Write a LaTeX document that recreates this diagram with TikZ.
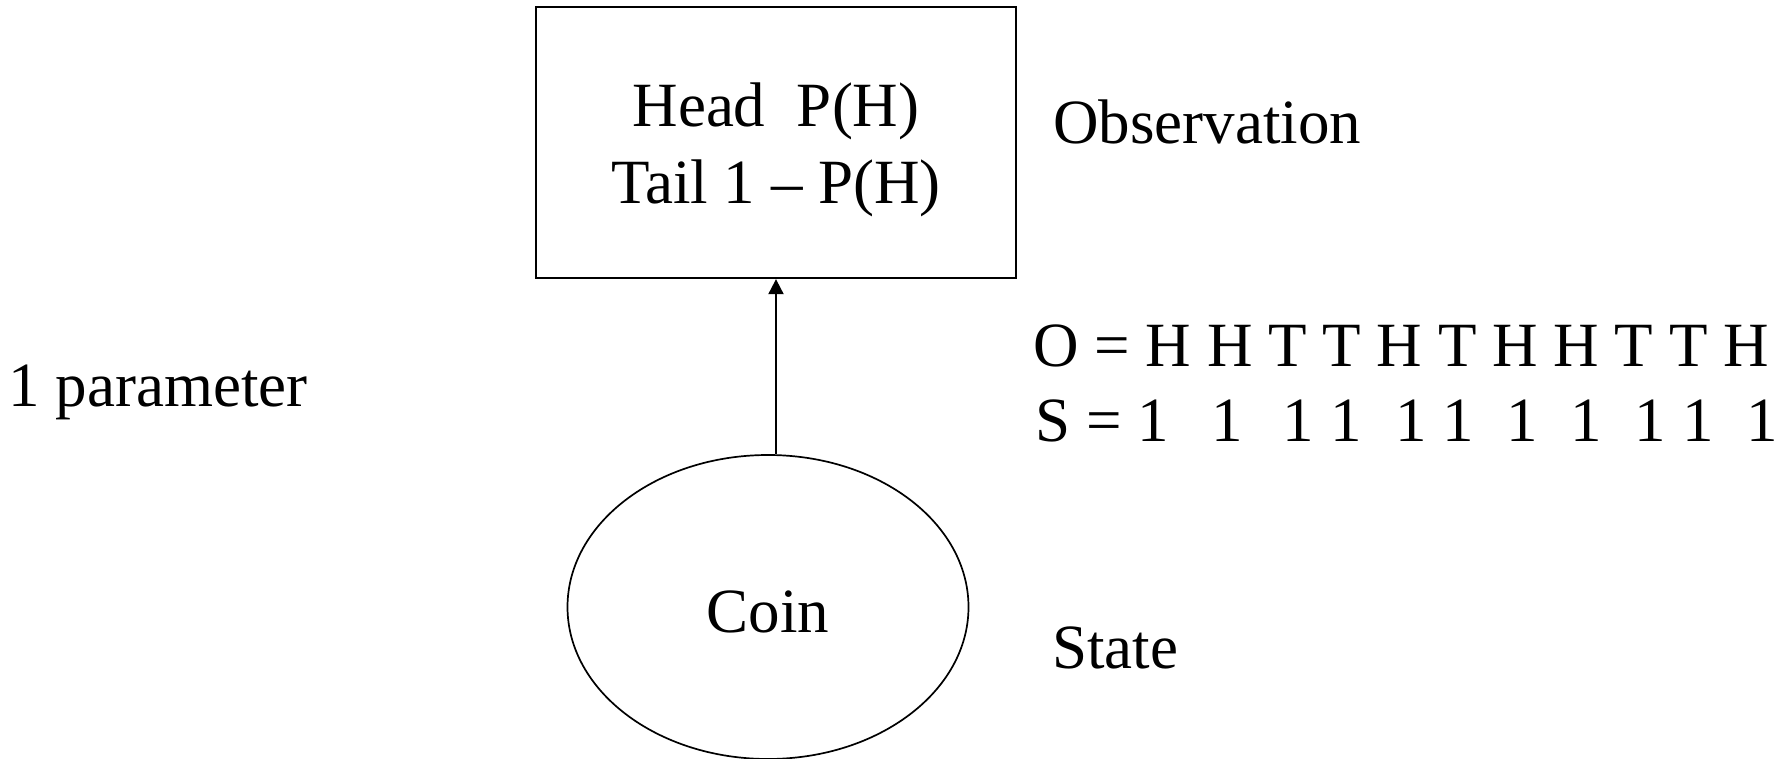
\documentclass[tikz,border=0pt]{standalone}
\usepackage{fontspec}
\setmainfont{Liberation Serif}
\usetikzlibrary{shapes.geometric,arrows.meta}
\newcommand\oneat[1]{\makebox[0pt][l]{\hspace*{#1}1}}
\begin{document}
\begin{tikzpicture}[x=0.5pt,y=-0.5pt,
  txt/.style={font=\fontsize{31.5}{38.5}\selectfont, inner sep=0pt},
  obsbox/.style={draw, line width=1.15pt, minimum width=240pt, minimum height=135.5pt, inner sep=0pt, align=center, txt},
  statenode/.style={ellipse, draw, line width=0.85pt, minimum width=200.5pt, minimum height=152pt, inner sep=0pt, txt},
  link/.style={line width=1pt, -{Triangle[length=7.5pt,width=7.5pt]}}]
\useasboundingbox (0,0) rectangle (1779,759);
\node[obsbox] (box) at (776,142.5) {\rule{0pt}{29.4pt}Head~~P(H)\\Tail 1 -- P(H)};
\node[statenode] (coin) at (768,607) {\rule{0pt}{25.8pt}Coin};
\coordinate (start) at (box.south |- coin.north);
\draw[link] (start) -- (box.south);
\node[txt, anchor=base west] (obs) at (1053,143.3) {Observation};
\node[txt, anchor=base west] (state) at (1052,668.3) {State};
\node[txt, anchor=base west] (param) at (8,406.7) {1 parameter};
\node[txt, anchor=base west] (oseq) at (1033,366.7) {O = H H T T H T H H T T H};
\node[txt, anchor=base west] (sseq) at (1035,441.7) {\makebox[0pt][l]{S =}\oneat{51pt}\oneat{88pt}\oneat{123.5pt}\oneat{147.5pt}\oneat{180pt}\oneat{203.5pt}\oneat{235.5pt}\oneat{267.5pt}\oneat{299.5pt}\oneat{323.5pt}\oneat{355.5pt}\hspace*{371pt}};
\end{tikzpicture}
\end{document}
